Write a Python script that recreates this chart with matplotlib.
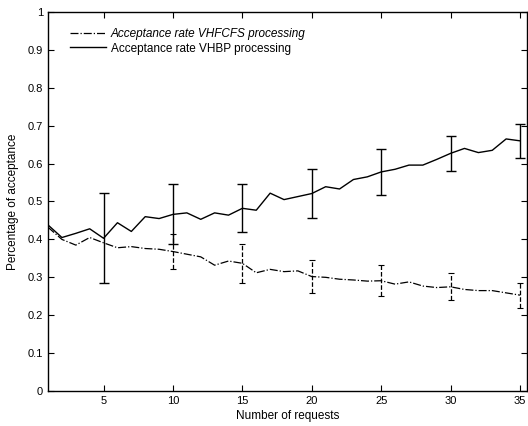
import matplotlib.pyplot as plt
import numpy as np

plt.rcParams["font.family"] = ["Liberation Sans", "DejaVu Sans"]

requests = np.arange(1, 36)

vhfcfs_rate = [0.432, 0.400, 0.385, 0.405, 0.391, 0.378, 0.381, 0.376, 0.374, 0.368,
               0.361, 0.354, 0.332, 0.343, 0.337, 0.312, 0.321, 0.315, 0.317, 0.302,
               0.300, 0.295, 0.293, 0.290, 0.291, 0.282, 0.288, 0.277, 0.273, 0.275,
               0.268, 0.265, 0.265, 0.259, 0.253]
vhbp_rate = [0.438, 0.405, 0.416, 0.428, 0.403, 0.444, 0.421, 0.460, 0.455, 0.466,
             0.470, 0.453, 0.470, 0.464, 0.482, 0.477, 0.522, 0.505, 0.513, 0.521,
             0.539, 0.533, 0.558, 0.565, 0.578, 0.585, 0.596, 0.596, 0.611, 0.627,
             0.640, 0.629, 0.635, 0.665, 0.660]

err_x = [10, 15, 20, 25, 30, 35]
vhfcfs_err = [0.046, 0.052, 0.044, 0.041, 0.036, 0.033]
vhbp_err_x = [5, 10, 15, 20, 25, 30, 35]
vhbp_err = [0.119, 0.079, 0.063, 0.064, 0.060, 0.047, 0.044]

fig = plt.figure(figsize=(5.28, 4.26), dpi=100)
ax = fig.add_axes([0.091, 0.082, 0.907, 0.890])

ax.plot(requests, vhfcfs_rate, color="black", linestyle="-.", linewidth=0.9,
        label="Acceptance rate VHFCFS processing")
ax.plot(requests, vhbp_rate, color="black", linestyle="-", linewidth=1.0,
        label="Acceptance rate VHBP processing")

# error bars every 5 requests; dashed for VHFCFS
idx = [x - 1 for x in err_x]
eb = ax.errorbar(err_x, [vhfcfs_rate[i] for i in idx], yerr=vhfcfs_err, fmt="none",
                 ecolor="black", elinewidth=0.9, capsize=2.5, capthick=0.8)
eb[2][0].set_linestyle("--")

idx = [x - 1 for x in vhbp_err_x]
ax.errorbar(vhbp_err_x, [vhbp_rate[i] for i in idx], yerr=vhbp_err, fmt="none",
            ecolor="black", elinewidth=1.0, capsize=3.5, capthick=1.0)

ax.set_xlim(1, 35.5)
ax.set_ylim(0, 1)
ax.set_xticks([5, 10, 15, 20, 25, 30, 35])
ax.set_yticks(np.arange(0, 1.01, 0.1))
ax.set_yticklabels(["0", "0.1", "0.2", "0.3", "0.4", "0.5", "0.6", "0.7", "0.8", "0.9", "1"])
ax.tick_params(direction="in", top=True, right=True, labelsize=8, length=4, width=0.8)
for s in ax.spines.values():
    s.set_linewidth(1.0)

ax.set_xlabel("Number of requests", fontsize=8.5, labelpad=3)
ax.set_ylabel("Percentage of acceptance", fontsize=8.5, labelpad=6)

leg = ax.legend(loc="upper left", bbox_to_anchor=(0.024, 0.985), frameon=False,
                fontsize=8.5, handlelength=3.0, handletextpad=0.42, labelspacing=0.2)
leg.get_texts()[0].set_fontstyle("italic")

fig.savefig("out.png", dpi=100)
